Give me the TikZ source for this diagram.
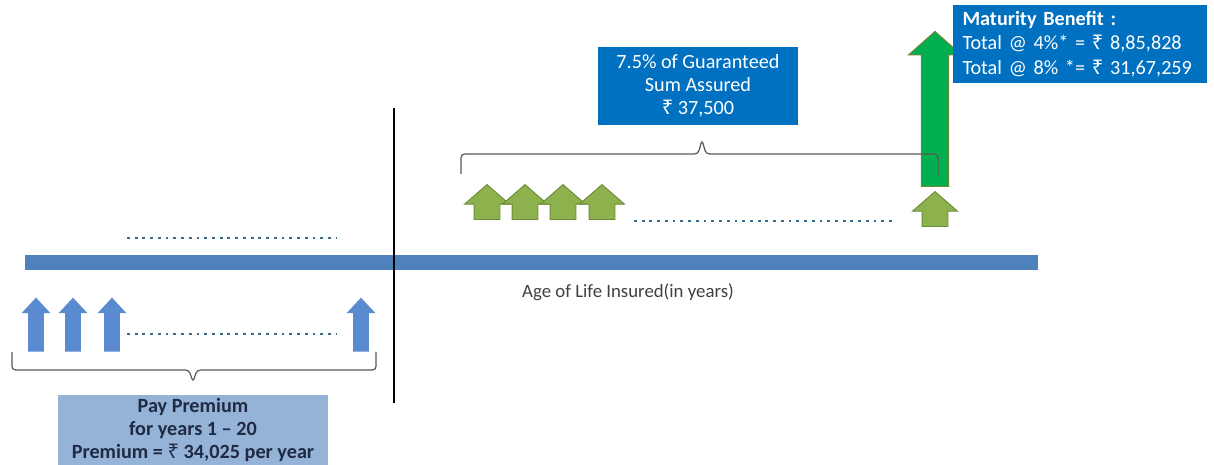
\documentclass[tikz,border=0pt]{standalone}
\usepackage{fontspec}
\setmainfont{Carlito}
\newfontfamily\rupeefont{Noto Sans}
\usetikzlibrary{shapes.arrows}

\definecolor{barblue}{HTML}{4F81BD}
\definecolor{payblue}{HTML}{5A8AD0}
\definecolor{boxblue}{HTML}{0070C0}
\definecolor{paleblue}{HTML}{95B3D7}
\definecolor{leaf}{HTML}{8DB14C}
\definecolor{leafdark}{HTML}{6D8A38}
\definecolor{brightgreen}{HTML}{00B050}
\definecolor{dotcol}{HTML}{3A6C8C}
\definecolor{navytext}{HTML}{1F2A44}

\newcommand{\rs}{{\rupeefont ₹}}

\begin{document}
\begin{tikzpicture}[x=0.02cm, y=-0.02cm,
    font=\fontsize{11.5}{13}\selectfont,
    premium/.style={single arrow, rotate=90, anchor=tail, fill=payblue,
        inner xsep=0pt, inner ysep=1.5mm, minimum height=10.8mm,
        single arrow head extend=1.3mm, single arrow tip angle=86},
    bonus/.style={single arrow, rotate=90, anchor=tail, fill=leaf, draw=leafdark,
        line width=0.5pt, inner xsep=0pt, inner ysep=2.5mm, minimum height=7mm,
        single arrow head extend=1.9mm, single arrow tip angle=98},
    payout/.style={single arrow, rotate=90, anchor=tail, fill=brightgreen, draw=leafdark,
        line width=0.6pt, inner xsep=0pt, inner ysep=2.6mm, minimum height=31mm,
        single arrow head extend=2.6mm, single arrow tip angle=97},
    dots/.style={dotcol, line width=1.6pt, dash pattern=on 1.6pt off 2.8pt},
    bracket/.style={draw=black!65, line width=0.7pt, rounded corners=2pt},
    infobox/.style={fill=boxblue, text=white, inner sep=0pt, align=center}
  ]
    \useasboundingbox (0,0) rectangle (1214,465);

    % Time line and the divider
    \fill[barblue] (25,255) rectangle (1038,270);
    \draw[line width=1.4pt] (394,108) -- (394,403);
    \node[text=black!75, font=\fontsize{10.7}{12}\selectfont] (age) at (628,292)
        {Age of Life Insured(in years)};

    % Premiums paid
    \node[premium] (p1) at (36,352)  {};
    \node[premium] (p2) at (73,352)  {};
    \node[premium] (p3) at (112,352) {};
    \node[premium] (p4) at (361,352) {};
    \draw[dots] (127,238) -- (337,238);
    \draw[dots] (127,334) -- (337,334);

    % Yearly payouts and maturity
    \node[bonus] (b1) at (487,220) {};
    \node[bonus] (b2) at (525,220) {};
    \node[bonus] (b3) at (563,220) {};
    \node[bonus] (b4) at (602,220) {};
    \node[bonus] (b5) at (935,227) {};
    \node[payout] (mat) at (935,187) {};
    \draw[dots] (634,221) -- (895,221);

    % Braces
    \draw[bracket] (12,352) |- (189,370) -- (193,382) -- (197,370) -| (376,352);
    \draw[bracket] (461,174) |- (698,154) -- (702,140) -- (706,154) -| (938,176);

    % Text boxes
    \node[fill=paleblue, text=navytext, font=\fontsize{11.5}{13}\selectfont\bfseries,
          align=center, inner sep=0pt, minimum width=54mm, minimum height=14mm]
        (pay) at (193,430)
        {Pay Premium\\ for years 1 – 20\\ Premium = \rs\ 34,025 per year};
    \node[infobox, minimum width=40mm, minimum height=15.6mm] (guar) at (698,86)
        {7.5\% of Guaranteed\\ Sum Assured\\ \rs\ 37,500};
    \node[infobox, align=left, text width=47mm, inner xsep=2mm,
          minimum height=15.6mm] (matbox) at (1080,44)
        {\textbf{Maturity Benefit :}\\[1pt] Total @ 4\%* = \rs\ 8,85,828\\[1pt]
         Total @ 8\% *= \rs\ 31,67,259};
\end{tikzpicture}
\end{document}
